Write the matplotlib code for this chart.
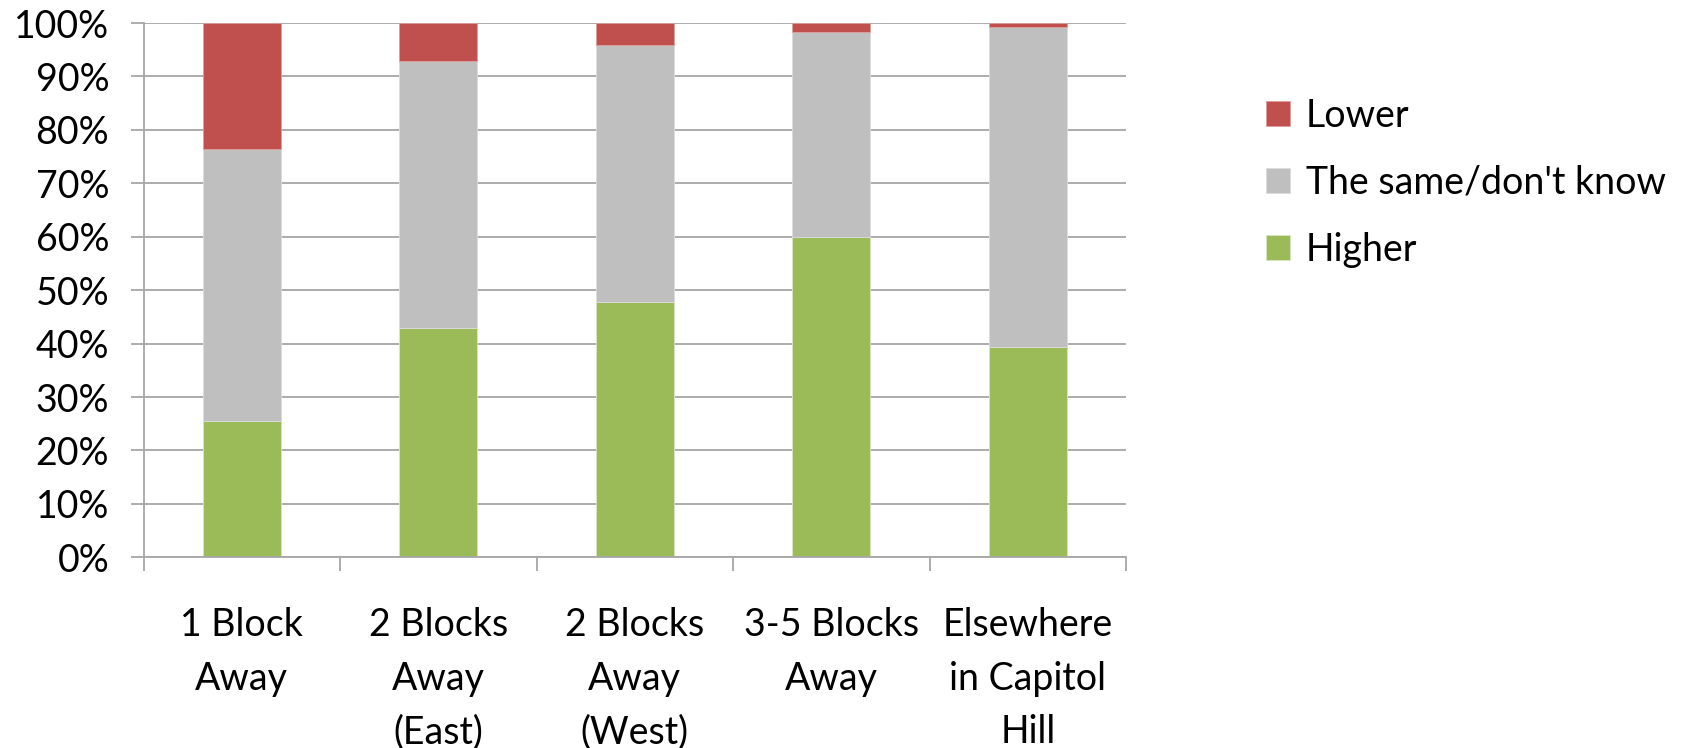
import numpy as np
import matplotlib
matplotlib.use('Agg')
import matplotlib.pyplot as plt
from matplotlib.ticker import MultipleLocator, FixedLocator, PercentFormatter

plt.rcParams['font.family'] = ['Lato', 'DejaVu Sans']

# dados (%)
categorias = ['1 Block\nAway', '2 Blocks\nAway\n(East)', '2 Blocks\nAway\n(West)',
              '3-5 Blocks\nAway', 'Elsewhere\nin Capitol\nHill']
higher = [25.6, 43.0, 47.8, 59.9, 39.4]
same = [50.8, 49.9, 48.0, 38.5, 59.8]
lower = [23.6, 7.1, 4.2, 1.6, 0.8]

cor_higher = '#9BBB59'
cor_same = '#BFBFBF'
cor_lower = '#C0504D'
cinza = '#A6A6A6'

fig = plt.figure(figsize=(16.94, 7.48), dpi=100)
ax = fig.add_axes([143.5 / 1694, 1 - 557.3 / 748, (1126 - 143.5) / 1694, (557.3 - 23) / 748])

x = np.arange(len(categorias))
w = 0.395
base_same = np.array(higher)
base_lower = base_same + np.array(same)

b1 = ax.bar(x, higher, w, color=cor_higher, edgecolor='#d9e6c4', linewidth=0.6, label='Higher')
b2 = ax.bar(x, same, w, bottom=base_same, color=cor_same, edgecolor='#dcdcdc', linewidth=0.6,
            label="The same/don't know")
b3 = ax.bar(x, lower, w, bottom=base_lower, color=cor_lower, edgecolor='#dca09e', linewidth=0.6,
            label='Lower')

ax.set_xlim(-0.5, len(categorias) - 0.5)
ax.set_ylim(0, 100)
ax.yaxis.set_major_locator(MultipleLocator(10))
ax.yaxis.set_major_formatter(PercentFormatter(decimals=0))
ax.set_axisbelow(True)
ax.grid(axis='y', color=cinza, linewidth=1.3)

# rotulos no centro, ticks nas divisoes
ax.set_xticks(x)
ax.set_xticklabels(categorias, fontsize=27, linespacing=1.6)
ax.tick_params(axis='x', length=0, pad=36)
ax.xaxis.set_minor_locator(FixedLocator(np.arange(-0.5, len(categorias), 1.0)))
ax.tick_params(axis='x', which='minor', length=10, width=1.3, color=cinza, direction='out')
ax.tick_params(axis='y', labelsize=27, length=9.7, width=1.3, color=cinza, pad=15)

for lado in ['top', 'right']:
    ax.spines[lado].set_visible(False)
ax.spines['left'].set_color(cinza)
ax.spines['left'].set_linewidth(1.3)
ax.spines['bottom'].set_color(cinza)
ax.spines['bottom'].set_linewidth(1.3)

fig.legend(handles=[b3, b2, b1], loc='upper left', bbox_to_anchor=(1266 / 1694, 1 - 98 / 748),
           frameon=False, fontsize=27, handlelength=0.64, handleheight=0.64,
           handletextpad=0.42, labelspacing=0.82, borderaxespad=0, borderpad=0)

fig.savefig('out.png', dpi=100)
